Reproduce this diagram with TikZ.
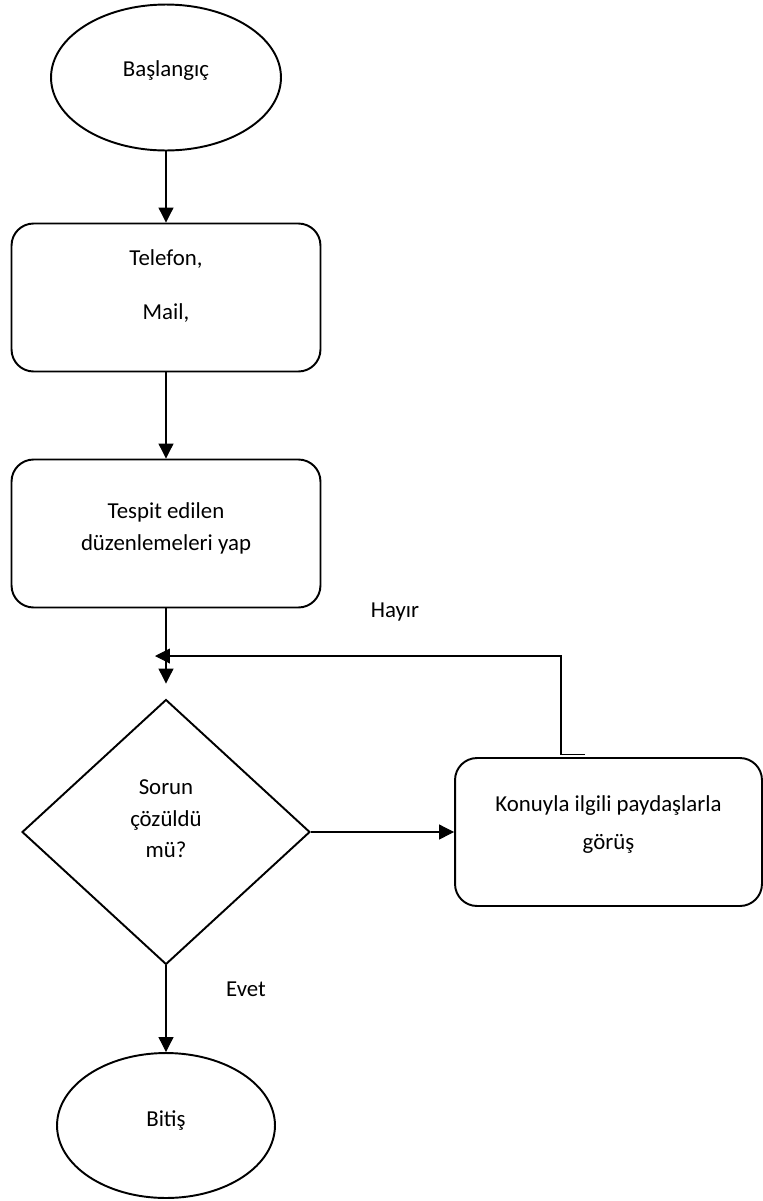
\documentclass[tikz,border=0pt]{standalone}
\usepackage{fontspec}
\setmainfont{Carlito}
\usetikzlibrary{shapes.geometric,arrows.meta}

\tikzset{
    kenar/.style={draw, line width=1.1pt},
    ucnokta/.style={kenar, ellipse, inner sep=0pt, align=center},
    kutu/.style={kenar, rectangle, rounded corners=0.44cm, minimum width=6.18cm,
                 minimum height=2.96cm, inner sep=0pt, align=center},
    karar/.style={kenar, diamond, minimum width=5.76cm, minimum height=5.3cm,
                  inner sep=0pt, align=center},
    ok/.style={line width=0.6pt, -{Triangle[width=8.5pt,length=8.5pt]}},
}

\begin{document}
\begin{tikzpicture}[x=0.02cm, y=-0.02cm, font=\fontsize{13pt}{18pt}\selectfont]
    \useasboundingbox (0,0) rectangle (763,1201);

    % Main column
    \node[ucnokta, minimum width=4.6cm, minimum height=2.92cm] (bas) at (166,77.5)
        {Başlangıç\\[-7.8pt]\mbox{}};
    \node[kutu] (iletisim) at (166,297.5)
        {Telefon,\\[12.7pt]Mail,\\[-3.4pt]\mbox{}};
    \node[kutu] (duzenle) at (166,533.5)
        {Tespit edilen\\düzenlemeleri yap\\[-10pt]\mbox{}};
    \node[karar] (cozum) at (166,832)
        {Sorun\\çözüldü\\mü?\\[-3pt]\mbox{}};
    \node[ucnokta, minimum width=4.36cm, minimum height=2.9cm] (bitis) at (166,1125.5)
        {Bitiş\\[-10.7pt]\mbox{}};

    % Side box
    \node[kutu, minimum width=6.14cm] (gorus) at (608.5,832)
        {Konuyla ilgili paydaşlarla\\[3.6pt]görüş\\[-7.2pt]\mbox{}};

    % Branch labels
    \node (hayir) at (395,612) {Hayır};
    \node (evet) at (246,989) {Evet};

    % Connectors
    \draw[ok] (bas.south) -- (iletisim.north);
    \draw[ok] (iletisim.south) -- (duzenle.north);
    \draw[ok, shorten >=0.3cm] (duzenle.south) -- (cozum.north);
    \draw[ok] (cozum.east) -- (gorus.west);
    \draw[ok] (cozum.south) -- (bitis.north);

    % Loop back when not solved
    \coordinate (donus) at (155,656);
    \draw[ok] ([xshift=-0.47cm,yshift=0.06cm]gorus.north) -- ++(-24,0) |- (donus);
\end{tikzpicture}
\end{document}
